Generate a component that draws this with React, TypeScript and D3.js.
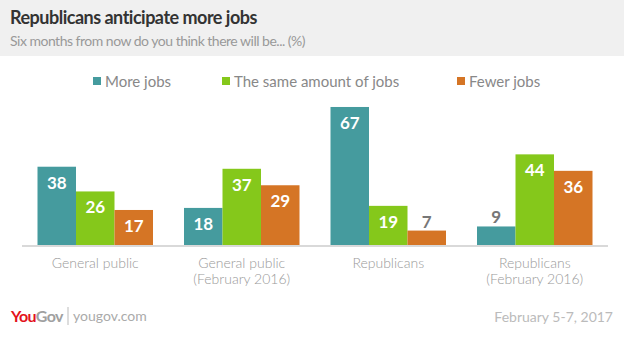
import React from "react";
import * as d3 from "d3";

const categories = [["General public"], ["General public", "(February 2016)"], ["Republicans"], ["Republicans", "(February 2016)"]];
const seriesNames = ["More jobs", "The same amount of jobs", "Fewer jobs"];
const seriesColors = ["#459b9e", "#85c81b", "#d57525"];
const moreJobs = [38, 18, 67, 9];
const sameJobs = [26, 37, 19, 44];
const fewerJobs = [17, 29, 7, 36];
const seriesValues = [moreJobs, sameJobs, fewerJobs];

const W = 624;
const H = 343;
const FONT = "Lato, 'Open Sans', sans-serif";

export default function App() {
  const catKeys = categories.map((c) => c.join(" "));
  const x0 = d3.scaleBand<string>().domain(catKeys).range([22, 608]).paddingInner(0.2116).paddingOuter(0.1058);
  const x1 = d3.scaleBand<string>().domain(seriesNames).range([0, x0.bandwidth()]);
  const y = d3.scaleLinear().domain([0, 100]).range([245, 39]);

  const legendX = [93, 222, 457];

  return (
    <svg width={W} height={H} style={{ position: "absolute", left: 0, top: 0, background: "#fff" }}>
      <rect x={0} y={0} width={W} height={56} fill="#f0f0f0" />
      <text x={10} y={24} fontFamily={FONT} fontWeight={700} fontSize={18} fill="#333" letterSpacing={-0.5}>
        Republicans anticipate more jobs
      </text>
      <text x={10} y={46} fontFamily={FONT} fontSize={14} fill="#999" letterSpacing={-0.5}>
        Six months from now do you think there will be... (%)
      </text>

      {seriesNames.map((s, i) => (
        <g key={s}>
          <rect x={legendX[i]} y={77} width={8} height={8} fill={seriesColors[i]} />
          <text x={legendX[i] + 12} y={87} fontFamily={FONT} fontSize={15} fill="#888">
            {s}
          </text>
        </g>
      ))}

      {catKeys.map((c, ci) => (
        <g key={c}>
          {seriesNames.map((s, si) => {
            const v = seriesValues[si][ci];
            const bx = (x0(c) as number) + (x1(s) as number);
            const bw = x1.bandwidth();
            const top = y(v);
            const inside = v >= 10;
            return (
              <g key={s}>
                <rect x={bx} y={top} width={bw} height={y(0) - top} fill={seriesColors[si]} />
                <text
                  x={bx + bw / 2}
                  y={inside ? top + 22 : top - 3}
                  textAnchor="middle"
                  fontFamily={FONT}
                  fontWeight={700}
                  fontSize={17}
                  fill={inside ? "#fff" : "#777"}
                >
                  {v}
                </text>
              </g>
            );
          })}
          {categories[ci].map((line, li) => (
            <text
              key={li}
              x={(x0(c) as number) + x0.bandwidth() / 2}
              y={268 + li * 16}
              textAnchor="middle"
              fontFamily={FONT}
              fontWeight={300}
              fontSize={14}
              fill="#999"
            >
              {line}
            </text>
          ))}
        </g>
      ))}

      <rect x={22} y={245} width={586} height={2} fill="#d9d9d9" />

      <text x={11} y={322} fontFamily={FONT} fontWeight={700} fontSize={16} letterSpacing={-0.6}>
        <tspan fill="#e3111b">You</tspan>
        <tspan fill="#a0a0a0">Gov</tspan>
      </text>
      <line x1={68} x2={68} y1={307} y2={325} stroke="#bbb" strokeWidth={1} />
      <text x={73} y={321} fontFamily={FONT} fontSize={14} fill="#aaa">
        yougov.com
      </text>
      <text x={613} y={322} textAnchor="end" fontFamily={FONT} fontSize={14} fill="#bbb">
        February 5-7, 2017
      </text>
    </svg>
  );
}
